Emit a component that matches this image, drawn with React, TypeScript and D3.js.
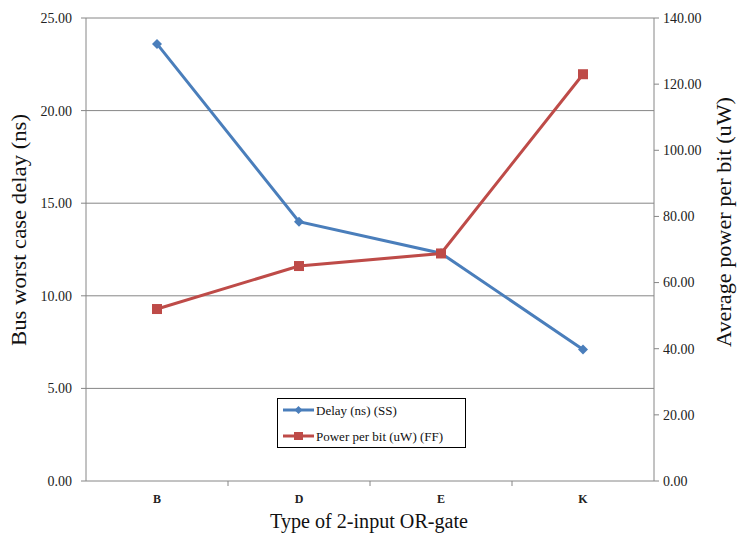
import React from "react";
import * as d3 from "d3";

const categories = ["B", "D", "E", "K"];
const delayValues = [23.6, 14.0, 12.3, 7.1];
const powerValues = [52.0, 65.0, 68.8, 123.0];
const leftTicks = [0, 5, 10, 15, 20, 25];
const rightTicks = [0, 20, 40, 60, 80, 100, 120, 140];
const seriesNames = ["Delay (ns) (SS)", "Power per bit (uW) (FF)"];

const W = 737, H = 534;
const L = 86, R = 654, T = 18, B = 481;
const BLUE = "#4A7EBB", RED = "#BE4B48", GRID = "#868686";
const FONT = "Liberation Serif";

export default function App() {
  const x = d3.scaleBand<string>().domain(categories).range([L, R]);
  const yL = d3.scaleLinear().domain([0, 25]).range([B, T]);
  const yR = d3.scaleLinear().domain([0, 140]).range([B, T]);
  const cx = (c: string) => (x(c) as number) + x.bandwidth() / 2;
  const lineL = d3.line<number>().x((_, i) => cx(categories[i])).y((d) => yL(d));
  const lineR = d3.line<number>().x((_, i) => cx(categories[i])).y((d) => yR(d));
  const diamond = (px: number, py: number, s: number) =>
    `M${px},${py - s}L${px + s},${py}L${px},${py + s}L${px - s},${py}Z`;
  const ts = { fontFamily: FONT };

  return (
    <svg width={W} height={H} style={{ position: "absolute", left: 0, top: 0, background: "#fff" }}>
      {leftTicks.map((t) => (
        <line key={"g" + t} x1={L} x2={R} y1={yL(t)} y2={yL(t)} stroke={GRID} strokeWidth={1} />
      ))}
      <line x1={L} x2={L} y1={T} y2={B} stroke={GRID} />
      {leftTicks.map((t) => (
        <g key={"l" + t}>
          <line x1={L - 5} x2={L} y1={yL(t)} y2={yL(t)} stroke={GRID} />
          <text x={72} y={yL(t)} dy="0.35em" textAnchor="end" style={ts} fontSize={14} fill="#222">
            {t.toFixed(2)}
          </text>
        </g>
      ))}
      <line x1={R} x2={R} y1={T} y2={B} stroke={GRID} />
      {rightTicks.map((t) => (
        <g key={"r" + t}>
          <line x1={R} x2={R + 5} y1={yR(t)} y2={yR(t)} stroke={GRID} />
          <text x={663} y={yR(t)} dy="0.35em" textAnchor="start" style={ts} fontSize={14} fill="#222">
            {t.toFixed(2)}
          </text>
        </g>
      ))}
      {categories.slice(1).map((c) => (
        <line key={"xt" + c} x1={x(c) as number} x2={x(c) as number} y1={B} y2={B + 5} stroke={GRID} />
      ))}
      {categories.map((c) => (
        <text key={"xl" + c} x={cx(c)} y={499} dy="0.35em" textAnchor="middle" style={ts} fontSize={12} fontWeight="bold" fill="#222">
          {c}
        </text>
      ))}
      <text x={369} y={528} textAnchor="middle" style={ts} fontSize={20} fill="#111" textLength={198} lengthAdjust="spacingAndGlyphs">
        Type of 2-input OR-gate
      </text>
      <text transform={`translate(26,230) rotate(-90)`} textAnchor="middle" style={ts} fontSize={20} fill="#111" textLength={232} lengthAdjust="spacingAndGlyphs">
        Bus worst case delay (ns)
      </text>
      <text transform={`translate(731,222) rotate(-90)`} textAnchor="middle" style={ts} fontSize={20} fill="#111" textLength={250} lengthAdjust="spacingAndGlyphs">
        Average power per bit (uW)
      </text>
      <path d={lineL(delayValues) as string} fill="none" stroke={BLUE} strokeWidth={3} />
      <path d={lineR(powerValues) as string} fill="none" stroke={RED} strokeWidth={3} />
      {delayValues.map((v, i) => (
        <path key={"dm" + i} d={diamond(cx(categories[i]), yL(v), 5)} fill={BLUE} />
      ))}
      {powerValues.map((v, i) => (
        <rect key={"pm" + i} x={cx(categories[i]) - 5} y={yR(v) - 5} width={10} height={10} fill={RED} />
      ))}
      <rect x={277.5} y={398.5} width={188} height={49} fill="#fff" stroke="#000" strokeWidth={1} />
      <line x1={283} x2={314} y1={410} y2={410} stroke={BLUE} strokeWidth={3} />
      <path d={diamond(298.5, 410, 4)} fill={BLUE} />
      <text x={316} y={410} dy="0.35em" style={ts} fontSize={13} fill="#111">{seriesNames[0]}</text>
      <line x1={283} x2={314} y1={436} y2={436} stroke={RED} strokeWidth={3} />
      <rect x={294} y={432} width={9} height={8} fill={RED} />
      <text x={316} y={436} dy="0.35em" style={ts} fontSize={13} fill="#111">{seriesNames[1]}</text>
    </svg>
  );
}
